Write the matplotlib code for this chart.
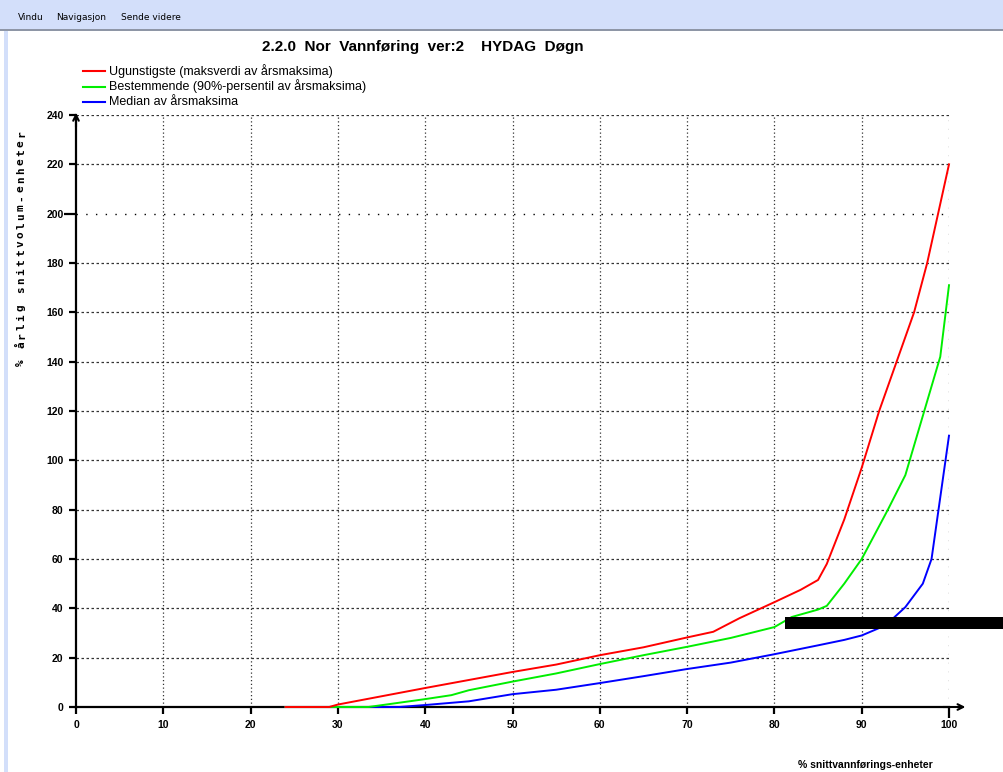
import matplotlib
matplotlib.use("Agg")
import matplotlib.pyplot as plt
from matplotlib.patches import Rectangle
from matplotlib.lines import Line2D

# ---- data ----
title = "2.2.0  Nor  Vannføring  ver:2    HYDAG  Døgn"
series_labels = ["Ugunstigste (maksverdi av årsmaksima)",
                 "Bestemmende (90%-persentil av årsmaksima)",
                 "Median av årsmaksima"]
series_colors = ["#ff0000", "#00ee00", "#0000ff"]

red_x = [24, 29, 30, 40, 50, 55, 60, 65, 70, 73, 76, 80, 83, 85, 86, 88, 90, 92, 94, 96, 97.5, 100]
red_y = [0, 0, 1, 7.7, 14.2, 17.2, 21, 24.2, 28.2, 30.5, 36, 42.5, 47.5, 51.5, 58, 76, 97, 120, 140, 160, 180, 220]

green_x = [24, 33.5, 40, 43, 45, 50, 55, 60, 65, 70, 75, 80, 82, 85, 86, 88, 89, 90, 93, 95, 97, 99, 100]
green_y = [0, 0, 3.2, 4.8, 6.8, 10.3, 13.6, 17.4, 21, 24.4, 28, 32.4, 36.5, 39.5, 41, 50, 55, 60, 80, 94, 118, 142, 171]

blue_x = [24, 37, 40, 45, 50, 55, 60, 65, 70, 75, 80, 85, 88, 90, 92, 93.5, 95, 97, 98, 100]
blue_y = [0, 0, 0.8, 2.3, 5.2, 7, 9.7, 12.5, 15.4, 18, 21.4, 25, 27.2, 29, 32, 35.6, 40.5, 50, 60, 110]

x_ticks = [0, 10, 20, 30, 40, 50, 60, 70, 80, 90, 100]
y_ticks = [0, 20, 40, 60, 80, 100, 120, 140, 160, 180, 200, 220, 240]
y_label = "% årlig snittvolum-enheter"
x_label = "% snittvannførings-enheter"
menu_items = ["Vindu", "Navigasjon", "Sende videre"]

W, H = 1004, 772
fig = plt.figure(figsize=(W / 100, H / 100), dpi=100)
fig.patch.set_facecolor("white")

def fx(px):
    return px / W

def fy(py):
    return 1 - py / H

# window chrome
fig.patches.append(Rectangle((0, fy(30)), 1, fy(0) - fy(30), transform=fig.transFigure,
                             facecolor="#d3dffa", edgecolor="none", zorder=0))
fig.patches.append(Rectangle((0, fy(31)), 1, fy(29) - fy(31), transform=fig.transFigure,
                             facecolor="#8e96a6", edgecolor="none", zorder=0))
fig.patches.append(Rectangle((fx(4), 0), fx(4), fy(31), transform=fig.transFigure,
                             facecolor="#d3dffa", edgecolor="none", zorder=0))
mx = [18, 56, 121]
for m, x in zip(menu_items, mx):
    fig.text(fx(x), fy(18), m, fontsize=6.5, family="DejaVu Sans", va="center", ha="left")

ax = fig.add_axes([fx(76), fy(707), fx(949) - fx(76), fy(115) - fy(707)])
ax.set_xlim(0, 100)
ax.set_ylim(0, 240)
ax.set_facecolor("white")
for s in ["top", "right"]:
    ax.spines[s].set_visible(False)
for s in ["left", "bottom"]:
    ax.spines[s].set_linewidth(1.6)
    ax.spines[s].set_color("black")

# grid
for y in y_ticks[1:]:
    if y == 200:
        ax.axhline(y, color="black", lw=1.0, ls=(0, (1, 6)), zorder=1)
    else:
        ax.axhline(y, color="#333333", lw=0.9, ls=(0, (2, 2)), zorder=1)
for x in x_ticks[1:-1]:
    ax.axvline(x, color="#333333", lw=0.9, ls=(0, (1, 2)), zorder=1)
ax.axvline(100, color="#333333", lw=0.9, ls=(0, (1, 6)), zorder=1)

ax.set_xticks(x_ticks)
ax.set_yticks(y_ticks)
ax.tick_params(axis="both", length=5, width=1.6, direction="out", pad=4)
ax.set_xticklabels([str(v) for v in x_ticks], fontsize=7.5, fontweight="bold", family="Liberation Sans")
ax.set_yticklabels([str(v) for v in y_ticks], fontsize=7.5, fontweight="bold", family="Liberation Sans")
ax.yaxis.get_major_ticks()[y_ticks.index(200)].tick1line.set_markersize(9)
ax.xaxis.get_major_ticks()[x_ticks.index(100)].tick1line.set_markersize(8)

# arrows on axes
ax.annotate("", xy=(0, 242), xytext=(0, 234), xycoords="data",
            arrowprops=dict(arrowstyle="->", lw=1.5, color="black"), annotation_clip=False)
ax.annotate("", xy=(102.2, 0), xytext=(99, 0), xycoords="data",
            arrowprops=dict(arrowstyle="->", lw=1.5, color="black"), annotation_clip=False)

# series (drawn blue, green, red)
ax.plot(blue_x, blue_y, color=series_colors[2], lw=1.4, zorder=3, clip_on=False)
ax.plot(green_x, green_y, color=series_colors[1], lw=1.4, zorder=4, clip_on=False)
ax.plot(red_x, red_y, color=series_colors[0], lw=1.4, zorder=5, clip_on=False)

# title
fig.text(fx(423), fy(47), title, fontsize=11, fontweight="bold", family="Liberation Sans",
         ha="center", va="center")

# legend
for i, (lab, c) in enumerate(zip(series_labels, series_colors)):
    yy = fy(71 + i * 15.5)
    fig.lines.append(Line2D([fx(83), fx(105)], [yy, yy], transform=fig.transFigure, color=c, lw=1.5))
    fig.text(fx(109), yy, lab, fontsize=9, family="Liberation Sans", va="center", ha="left")

# axis labels (y label letter-spaced, rotated)
start_py, end_py = 363, 134
step = (start_py - end_py) / (len(y_label) - 1)
for i, ch in enumerate(y_label):
    if ch == " ":
        continue
    fig.text(fx(21), fy(start_py - i * step), ch, rotation=90, fontsize=8, fontweight="bold",
             family="DejaVu Sans Mono", ha="center", va="center")
fig.text(fx(865), fy(765), x_label, fontsize=7.5, fontweight="bold", family="Liberation Sans",
         ha="center", va="center")

# black bar artifact
fig.patches.append(Rectangle((fx(785), fy(629)), 1 - fx(785), fy(617) - fy(629),
                             transform=fig.transFigure, facecolor="black", edgecolor="none", zorder=10))

fig.savefig("out.png", dpi=100)
